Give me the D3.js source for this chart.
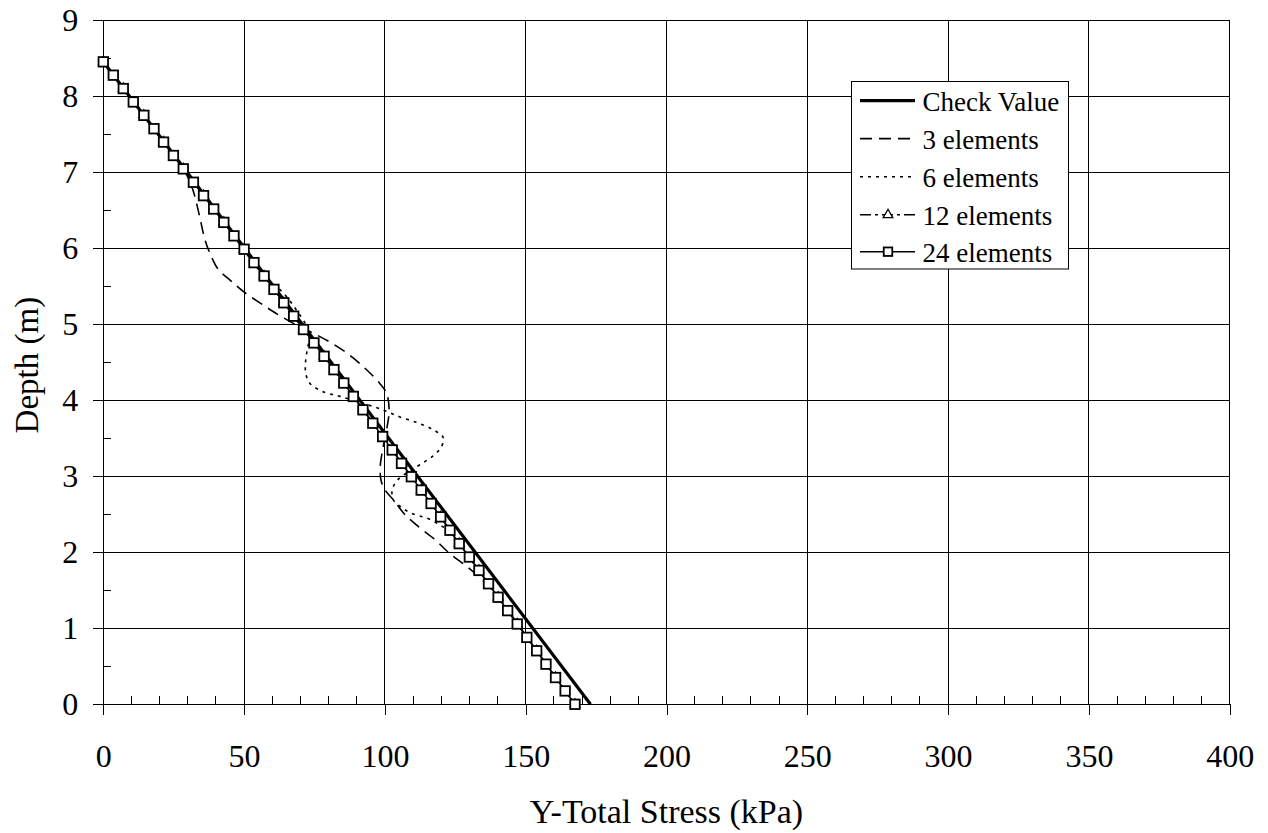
<!DOCTYPE html>
<html>
<head>
<meta charset="utf-8">
<script src="https://cdn.jsdelivr.net/npm/d3@7"></script>
<style>
  html, body { margin: 0; padding: 0; background: #fff; }
  svg { display: block; }
  text { font-family: "Liberation Serif", "Times New Roman", serif; fill: #000; }
</style>
</head>
<body>
<svg id="chart" width="1268" height="833"></svg>
<script>
// ---------------- data ----------------
const xTicks = [0, 50, 100, 150, 200, 250, 300, 350, 400];
const yTicks = [0, 1, 2, 3, 4, 5, 6, 7, 8, 9];
const xMinorTicks = [10,20,30,40,60,70,80,90,110,120,130,140,160,170,180,190,210,220,230,240,260,270,280,290,310,320,330,340,360,370,380,390];
const yMinorTicks = [0.5,1.5,2.5,3.5,4.5,5.5,6.5,7.5,8.5];

const seriesNames = ["Check Value", "3 elements", "6 elements", "12 elements", "24 elements"];

const checkDepth = [8.45, 0];
const checkStress = [0, 173];

const depth3 = [8.45, 7.746, 7.042, 6.80, 6.45, 6.11, 5.93, 5.72, 5.58, 5.43, 5.28, 5.15, 5.01, 4.88, 4.75, 4.59, 4.40, 4.22, 4.09, 3.87, 3.61, 3.39, 3.10, 2.92, 2.81, 2.69, 2.50, 2.34, 2.16, 2.00, 1.80, 1.62, 1.408, 0.704, 0];
const stress3 = [0, 14.4, 28.4, 31.5, 34.0, 36.1, 37.9, 40.8, 45.0, 49.7, 55.6, 61.0, 67.5, 74.6, 81.1, 87.6, 93.5, 98.2, 100.6, 101.5, 100.6, 99.4, 98.3, 98.8, 100.2, 103.0, 107.0, 111.8, 118.0, 122.5, 129.5, 135.0, 140.2, 153.9, 167.5];

const depth6 = [8.45, 7.746, 7.042, 6.338, 5.633, 5.41, 5.19, 4.97, 4.83, 4.66, 4.49, 4.35, 4.22, 4.11, 4.05, 3.96, 3.87, 3.78, 3.70, 3.61, 3.51, 3.39, 3.27, 3.15, 3.06, 2.95, 2.82, 2.69, 2.59, 2.51, 2.45, 2.36, 2.27, 2.113, 1.408, 0.704, 0];
const stress6 = [0, 14.4, 28.4, 42.8, 57.1, 63.9, 68.5, 72.2, 73.2, 72.4, 71.8, 71.9, 73.4, 78.1, 84.0, 92.3, 99.4, 105.3, 111.8, 117.2, 120.7, 120.1, 117.2, 112.4, 108.5, 104.5, 102.6, 103.0, 105.9, 109.5, 114.8, 119.5, 123.1, 126.4, 140.2, 153.9, 167.5];

const depth12 = [8.450, 8.098, 7.746, 7.394, 7.042, 6.690, 6.338, 5.985, 5.633, 5.281, 4.929, 4.577, 4.225, 3.873, 3.521, 3.169, 2.817, 2.465, 2.113, 1.761, 1.408, 1.056, 0.704, 0.352, 0];
const stress12 = [0, 7.1, 14.4, 21.4, 28.4, 35.6, 42.8, 50.0, 57.1, 64.1, 71.1, 78.4, 85.4, 92.4, 99.4, 106.1, 112.9, 119.8, 126.4, 133.4, 140.2, 147.0, 153.9, 160.6, 167.5];

const depth24 = [8.450, 8.274, 8.098, 7.922, 7.746, 7.570, 7.394, 7.218, 7.042, 6.866, 6.690, 6.514, 6.338, 6.161, 5.985, 5.809, 5.633, 5.457, 5.281, 5.105, 4.929, 4.753, 4.577, 4.401, 4.225, 4.049, 3.873, 3.697, 3.521, 3.345, 3.169, 2.993, 2.817, 2.641, 2.465, 2.289, 2.113, 1.937, 1.761, 1.585, 1.408, 1.232, 1.056, 0.880, 0.704, 0.528, 0.352, 0.176, 0];
const stress24 = [0, 3.55, 7.1, 10.65, 14.4, 18.0, 21.4, 24.9, 28.4, 32.0, 35.6, 39.2, 42.8, 46.4, 50.0, 53.5, 57.1, 60.6, 64.1, 67.6, 71.1, 74.8, 78.4, 81.9, 85.4, 88.8, 92.2, 95.7, 99.2, 102.6, 105.9, 109.4, 112.9, 116.4, 119.8, 123.1, 126.4, 130.0, 133.4, 136.8, 140.2, 143.6, 147.0, 150.4, 153.9, 157.2, 160.6, 164.0, 167.5];

// ---------------- layout ----------------
const margin = { left: 103.3, top: 20, right: 1268 - 1229.7, bottom: 833 - 704.3 };
const W = 1268 - margin.left - margin.right;
const H = 833 - margin.top - margin.bottom;

const svg = d3.select("#chart");
const g = svg.append("g").attr("transform", `translate(${margin.left},${margin.top})`);

const x = d3.scaleLinear().domain([0, 400]).range([0, W]);
const y = d3.scaleLinear().domain([0, 9]).range([H, 0]);

// grid
g.append("g").selectAll("line").data(xTicks).join("line")
  .attr("x1", d => x(d)).attr("x2", d => x(d)).attr("y1", 0).attr("y2", H)
  .attr("stroke", "#000").attr("stroke-width", 1).attr("shape-rendering", "crispEdges");
g.append("g").selectAll("line").data(yTicks).join("line")
  .attr("x1", 0).attr("x2", W).attr("y1", d => y(d)).attr("y2", d => y(d))
  .attr("stroke", "#000").attr("stroke-width", 1).attr("shape-rendering", "crispEdges");

// axes
const xAxis = d3.axisBottom(x).tickValues(xTicks).tickSize(11).tickPadding(29).tickFormat(d3.format("d"));
const gx = g.append("g").attr("transform", `translate(0,${H})`).call(xAxis);
gx.select(".domain").attr("stroke", "#000");
gx.selectAll("text").attr("font-size", 32).attr("font-family", "Liberation Serif").attr("dy", "0.71em");

const yAxis = d3.axisLeft(y).tickValues(yTicks).tickSize(10).tickPadding(15).tickFormat(d3.format("d"));
const gy = g.append("g").call(yAxis);
gy.select(".domain").attr("stroke", "#000");
gy.selectAll("text").attr("font-size", 32).attr("font-family", "Liberation Serif");

[gx, gy].forEach(a => a.selectAll("line, path").attr("shape-rendering", "crispEdges"));

// minor ticks (inside)
g.append("g").selectAll("line").data(xMinorTicks).join("line")
  .attr("x1", d => x(d)).attr("x2", d => x(d)).attr("y1", H).attr("y2", H - 8)
  .attr("stroke", "#000").attr("shape-rendering", "crispEdges");
g.append("g").selectAll("line").data(yMinorTicks).join("line")
  .attr("x1", 0).attr("x2", 8).attr("y1", d => y(d)).attr("y2", d => y(d))
  .attr("stroke", "#000").attr("shape-rendering", "crispEdges");

// axis titles
svg.append("text").attr("x", margin.left + W / 2).attr("y", 823)
  .attr("text-anchor", "middle").attr("font-size", 34).text("Y-Total Stress (kPa)");
svg.append("text").attr("transform", `translate(38,${margin.top + H / 2 + 3}) rotate(-90)`)
  .attr("text-anchor", "middle").attr("font-size", 33).text("Depth (m)");

// series
const lineFor = (curve) => d3.line().x(d => x(d[0])).y(d => y(d[1])).curve(curve);
const zip = (s, dd) => s.map((v, i) => [v, dd[i]]);

const pts3 = zip(stress3, depth3);
const pts6 = zip(stress6, depth6);
const pts12 = zip(stress12, depth12);
const pts24 = zip(stress24, depth24);
const ptsC = zip(checkStress, checkDepth);

const styles = [
  { dash: null, width: 3.2 },
  { dash: "12,7", width: 1.6 },
  { dash: "3,5", width: 1.6 },
  { dash: "11,4,3,4", width: 1.4 },
  { dash: null, width: 1.5 }
];

const plot = g.append("g");
plot.append("path").datum(ptsC).attr("d", lineFor(d3.curveLinear))
  .attr("fill", "none").attr("stroke", "#000").attr("stroke-width", styles[0].width);
plot.append("path").datum(pts3).attr("d", lineFor(d3.curveCatmullRom.alpha(0.5)))
  .attr("fill", "none").attr("stroke", "#000").attr("stroke-width", styles[1].width).attr("stroke-dasharray", styles[1].dash);
plot.append("path").datum(pts6).attr("d", lineFor(d3.curveCatmullRom.alpha(0.5)))
  .attr("fill", "none").attr("stroke", "#000").attr("stroke-width", styles[2].width).attr("stroke-dasharray", styles[2].dash);
plot.append("path").datum(pts12).attr("d", lineFor(d3.curveLinear))
  .attr("fill", "none").attr("stroke", "#000").attr("stroke-width", styles[3].width).attr("stroke-dasharray", styles[3].dash);
const tri = d3.symbol().type(d3.symbolTriangle).size(40);
plot.append("g").selectAll("path").data(pts12).join("path")
  .attr("d", tri).attr("transform", d => `translate(${x(d[0])},${y(d[1])})`)
  .attr("fill", "#fff").attr("stroke", "#000").attr("stroke-width", 1.3);
plot.append("path").datum(pts24).attr("d", lineFor(d3.curveLinear))
  .attr("fill", "none").attr("stroke", "#000").attr("stroke-width", styles[4].width);
const sq = 9.5;
plot.append("g").selectAll("rect").data(pts24).join("rect")
  .attr("x", d => x(d[0]) - sq / 2).attr("y", d => y(d[1]) - sq / 2)
  .attr("width", sq).attr("height", sq)
  .attr("fill", "#fff").attr("stroke", "#000").attr("stroke-width", 1.8);

// legend
const lg = svg.append("g");
lg.append("rect").attr("x", 851.5).attr("y", 81.5).attr("width", 217).attr("height", 187.5)
  .attr("fill", "#fff").attr("stroke", "#000").attr("stroke-width", 1);
const rowY = [100.7, 138.6, 176.8, 214.8, 251.7];
seriesNames.forEach((name, i) => {
  const ry = rowY[i];
  lg.append("line").attr("x1", 860).attr("x2", 915).attr("y1", ry).attr("y2", ry)
    .attr("stroke", "#000").attr("stroke-width", styles[i].width)
    .attr("stroke-dasharray", styles[i].dash);
  if (i === 3) {
    lg.append("path").attr("d", tri).attr("transform", `translate(888,${ry})`)
      .attr("fill", "#fff").attr("stroke", "#000").attr("stroke-width", 1.3);
  }
  if (i === 4) {
    lg.append("rect").attr("x", 888 - 4.25).attr("y", ry - 4.25).attr("width", 8.5).attr("height", 8.5)
      .attr("fill", "#fff").attr("stroke", "#000").attr("stroke-width", 1.8);
  }
  lg.append("text").attr("x", 922.5).attr("y", ry + 10).attr("font-size", 27).text(name);
});
</script>
</body>
</html>
